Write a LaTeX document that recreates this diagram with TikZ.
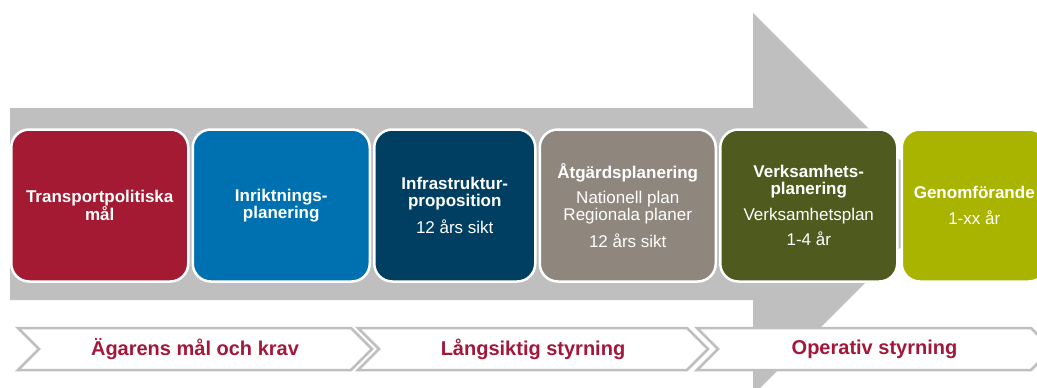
\documentclass[tikz,border=0pt]{standalone}
\usepackage{fontspec}
\setmainfont{Liberation Sans}
\usetikzlibrary{positioning,shapes.symbols}

\definecolor{goalred}{HTML}{A31A32}
\definecolor{dirblue}{HTML}{0071B0}
\definecolor{propnavy}{HTML}{003F62}
\definecolor{planstone}{HTML}{8F877E}
\definecolor{opolive}{HTML}{4F5A1E}
\definecolor{execlime}{HTML}{A8B400}
\definecolor{arrowgrey}{HTML}{BFBFBF}
\definecolor{labelred}{HTML}{A3183A}

\tikzset{
  stage/.style={rectangle, rounded corners=18pt, draw=white, line width=2.5pt,
    minimum height=152pt, minimum width=177pt, inner sep=0pt,
    text=white, align=center, font=\fontsize{17}{17}\selectfont},
  phase/.style={signal, signal from=west, signal to=east, fill=white,
    draw=arrowgrey, line width=2.5pt, minimum height=42pt, inner sep=0pt,
    text=labelred, font=\fontsize{20}{22}\selectfont\bfseries},
}

\begin{document}
\begin{tikzpicture}[x=1pt,y=-1pt]
  \useasboundingbox (0,0) rectangle (1037,388);

  % big grey arrow in the back
  \fill[arrowgrey] (10,108) -- (753,108) -- (753,13) -- (944,204)
    -- (753,395) -- (753,300) -- (10,300) -- cycle;

  \node[stage, fill=goalred] (goals) at (99.75,205.5)
    {\textbf{Transportpolitiska}\\\textbf{mål}};
  \node[stage, fill=dirblue, right=2pt of goals] (direction)
    {\textbf{Inriktnings-}\\\textbf{planering}};
  \node[stage, fill=propnavy, minimum width=161pt, right=2pt of direction] (bill)
    {\textbf{Infrastruktur-}\\\textbf{proposition}\\[9pt]12 års sikt};
  \node[stage, fill=planstone, minimum width=176pt, right=2pt of bill] (measures)
    {\textbf{Åtgärdsplanering}\\[8pt]Nationell plan\\Regionala planer\\[9pt]12 års sikt};
  \node[stage, fill=opolive, right=2pt of measures] (business)
    {\textbf{Verksamhets-}\\\textbf{planering}\\[9pt]Verksamhetsplan\\[7pt]1-4 år};
  \node[stage, fill=execlime, minimum width=145pt, right=2pt of business] (execution)
    {\textbf{Genomförande}\\[9pt]1-xx år};

  % phases
  \node[phase, minimum width=354pt] (owner) at (195,349) {Ägarens mål och krav};
  \node[phase, minimum width=350pt] (longterm) at (533,349) {Långsiktig styrning};
  \node[phase, minimum width=355pt] (operative) at (874.5,349) {Operativ styrning};
\end{tikzpicture}
\end{document}
